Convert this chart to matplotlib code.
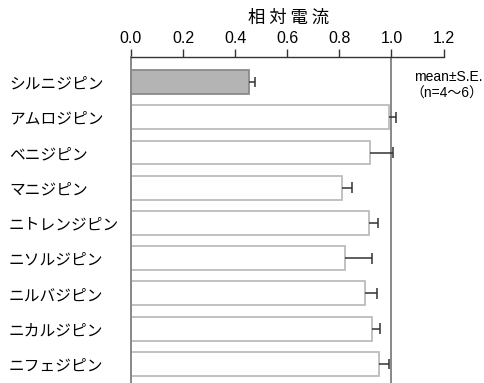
import matplotlib
matplotlib.use("Agg")
import matplotlib.pyplot as plt
import numpy as np

plt.rcParams['font.family'] = ['Noto Sans CJK JP', 'DejaVu Sans']

drugs = ["シルニジピン", "アムロジピン", "ベニジピン", "マニジピン", "ニトレンジピン",
         "ニソルジピン", "ニルバジピン", "ニカルジピン", "ニフェジピン"]
means = [0.453, 0.990, 0.919, 0.811, 0.913, 0.821, 0.900, 0.926, 0.954]
sems = [0.023, 0.028, 0.086, 0.038, 0.036, 0.106, 0.043, 0.031, 0.037]

fig = plt.figure(figsize=(4.84, 3.83), dpi=100)
ax = fig.add_axes([131 / 484, 0.0, (443.5 - 131) / 484, 1 - 57 / 383])

y = np.arange(len(drugs))
fills = ["#b4b4b4"] + ["white"] * (len(drugs) - 1)
edges = ["#8a8a8a"] + ["#bcbcbc"] * (len(drugs) - 1)
ax.barh(y, means, height=0.68, color=fills, edgecolor=edges, linewidth=1.3, zorder=2)

# one-sided error bars: stem from the bar end, cap only at the outer end
ends = np.array(means) + np.array(sems)
ax.hlines(y, means, ends, color="#333333", lw=1.1, zorder=3)
ax.vlines(ends, y - 0.15, y + 0.15, color="#333333", lw=1.1, zorder=3)

ax.axvline(1.0, color="#888888", lw=1.4, zorder=1)

ax.set_xlim(0, 1.2)
ax.set_ylim(len(drugs) - 1 + 0.54, -0.71)

ax.xaxis.tick_top()
ticks = np.arange(0, 1.21, 0.2)
ax.set_xticks(ticks)
ax.set_xticklabels([f"{v:.1f}" for v in ticks],
                   family=['Liberation Sans', 'DejaVu Sans'], fontsize=11.5)
ax.tick_params(axis="x", direction="out", length=6, width=1, color="#333333", pad=2)

ax.set_yticks(y)
ax.set_yticklabels(drugs, fontsize=11.3)
for lab in ax.get_yticklabels():
    lab.set_horizontalalignment("left")
ax.tick_params(axis="y", length=0, pad=122 * 72 / 100)

for s in ["right", "bottom"]:
    ax.spines[s].set_visible(False)
ax.spines["top"].set_color("#333333")
ax.spines["top"].set_linewidth(1.0)
ax.spines["left"].set_color("#888888")
ax.spines["left"].set_linewidth(1.4)

fig.text(289 / 484, 1 - 18 / 383, "相 対 電 流", ha="center", va="center", fontsize=12.5)
fig.text(483 / 484, 1 - 77 / 383, "mean±S.E.", ha="right", va="center", fontsize=10,
         family=['Liberation Sans', 'Noto Sans CJK JP'])
fig.text(483 / 484, 1 - 94 / 383, "（n=4～6）", ha="right", va="center", fontsize=10,
         family=['Liberation Sans', 'Noto Sans CJK JP'])

fig.savefig("out.png", dpi=100)
